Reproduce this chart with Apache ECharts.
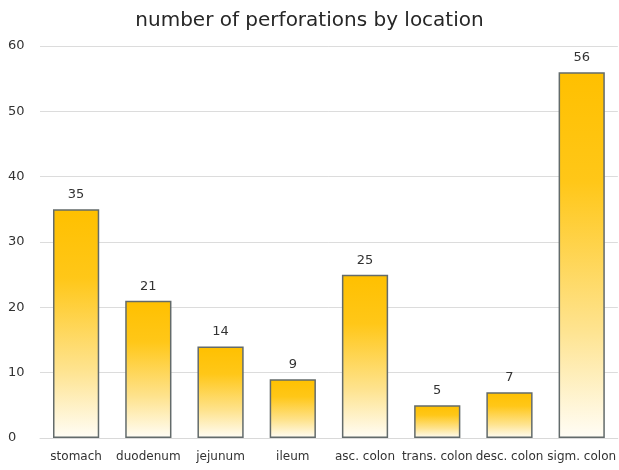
<!DOCTYPE html>
<html>
<head>
<meta charset="utf-8">
<script src="https://cdn.jsdelivr.net/npm/echarts@6/dist/echarts.min.js"></script>
<style>
  html, body { margin: 0; padding: 0; background: #fff; }
  #chart { width: 619px; height: 470px; }
</style>
</head>
<body>
<div id="chart"></div>
<script>
// data
var locations = ['stomach', 'duodenum', 'jejunum', 'ileum', 'asc. colon', 'trans. colon', 'desc. colon', 'sigm. colon'];
var perforations = [35, 21, 14, 9, 25, 5, 7, 56];

var chart = echarts.init(document.getElementById('chart'));

var textColor = '#333333';
var fontName = 'DejaVu Sans';

chart.setOption({
  animation: false,
  title: {
    text: 'number of perforations by location',
    left: 'center',
    top: 6,
    textStyle: { fontFamily: fontName, fontSize: 20, fontWeight: 'normal', color: '#262626' }
  },
  grid: { left: 40, right: 0, top: 46, bottom: 32, containLabel: false },
  xAxis: {
    type: 'category',
    data: locations,
    axisLine: { lineStyle: { color: '#d9d9d9', width: 1 } },
    axisTick: { show: false },
    axisLabel: { color: textColor, fontFamily: fontName, fontSize: 12, margin: 13, interval: 0 }
  },
  yAxis: {
    type: 'value',
    min: 0,
    max: 60,
    interval: 10,
    axisLine: { show: false },
    axisTick: { show: false },
    axisLabel: { color: textColor, fontFamily: fontName, fontSize: 13, margin: 32, align: 'left' },
    splitLine: { lineStyle: { color: '#dcdcdc', width: 1 } }
  },
  series: [{
    type: 'bar',
    data: perforations,
    barWidth: '64%',
    itemStyle: {
      color: new echarts.graphic.LinearGradient(0, 0, 0, 1, [
        { offset: 0, color: '#ffc000' },
        { offset: 0.3, color: '#ffc718' },
        { offset: 0.7, color: '#fee38e' },
        { offset: 1, color: '#fffdf6' }
      ]),
      borderColor: '#636b6b',
      borderWidth: 1.5
    },
    label: {
      show: true,
      position: 'top',
      distance: 8,
      color: textColor,
      fontFamily: fontName,
      fontSize: 13
    }
  }]
});
</script>
</body>
</html>
